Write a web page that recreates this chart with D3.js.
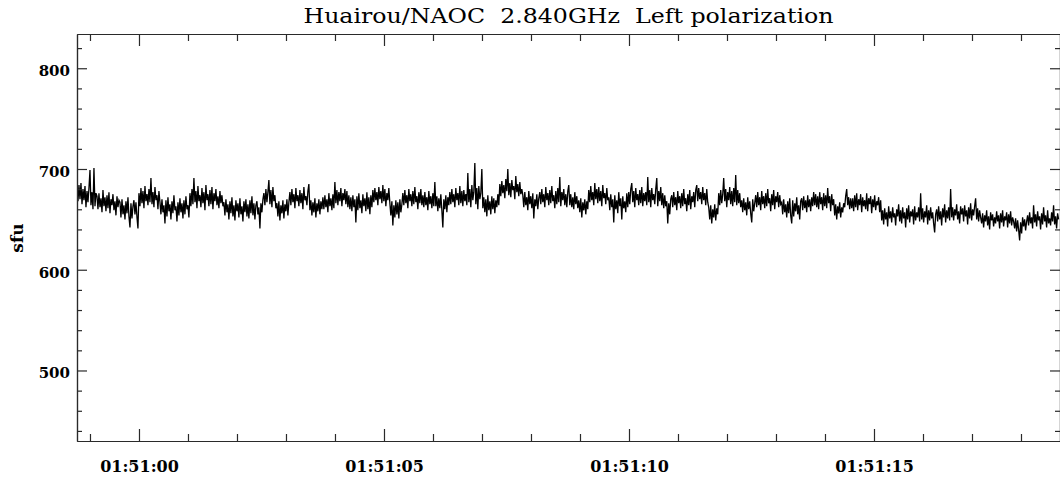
<!DOCTYPE html>
<html>
<head>
<meta charset="utf-8">
<script src="https://cdn.jsdelivr.net/npm/d3@7"></script>
<style>
  body { margin: 0; background: #fff; }
  svg { display: block; }
</style>
</head>
<body>
<div id="chart"></div>
<script>

// title / labels
var sTitle = "Huairou/NAOC  2.840GHz  Left polarization";
var sYLabel = "sfu";

// time window shown on the x axis (UTC)
var xStart = "2000-01-01T01:50:58.735Z";
var xEnd   = "2000-01-01T01:51:18.796Z";

// flux samples (sfu), one sample every sampleStep seconds
var sampleStart = "2000-01-01T01:50:58.735Z";
var sampleStep = 0.0204;
var aFlux = [
    688, 668, 684, 670, 686, 665, 680, 669, 683, 662, 678, 667, 681, 699, 664, 677, 660, 701, 663, 676,
    673, 660, 676, 662, 671, 657, 679, 663, 672, 658, 674, 661, 677, 656, 670, 664, 675, 659, 668, 654, 673, 662, 669,
    667, 652, 670, 655, 664, 650, 668, 656, 672, 653, 642, 666, 651, 663,
    669, 655, 667, 652, 641,
    676, 663, 681, 666, 678, 661, 683, 668, 675, 664, 680, 667, 691, 665, 677, 662, 682, 669, 674, 660, 678,
    667, 655, 670, 657, 664, 646, 669, 653, 672, 658, 665, 650, 668, 656, 674, 659, 663, 648, 667, 654, 671, 657, 666, 651, 669, 655, 673, 660, 664, 652,
    676, 663, 680, 665, 691, 667, 678, 661, 683, 668, 674, 662, 681, 666, 677, 659, 684, 669, 675, 663, 679, 665, 682, 660, 676, 668, 680, 664, 673, 661, 678, 666, 674, 663,
    667, 654, 670, 657, 665, 650, 668, 656, 672, 653, 664, 649, 669, 658, 666, 652, 671, 655, 663, 648, 668, 657, 670, 653, 665, 651, 669, 656, 673, 654, 666, 650, 664,
    668, 655, 662, 641, 666, 657, 670,
    676, 664, 680, 667, 677, 689, 665, 679, 662, 682, 668, 674, 661,
    666, 653, 668, 649, 664, 656, 669, 651, 665, 658, 670, 654, 667,
    677, 664, 680, 667, 675, 661, 681, 668, 674, 663, 679, 666, 676, 660, 682, 669, 673, 664, 678, 685,
    659, 669, 654, 667, 657, 671, 652, 666, 658, 670, 655, 668, 660,
    672, 660, 674, 662, 670, 657, 676, 663, 671, 659, 675, 661, 687,
    666, 679, 664, 677, 668, 681, 663, 676, 669, 680, 665, 678, 662, 674,
    660, 672, 658, 674, 662, 670, 647, 673, 659, 676, 661, 669, 656, 675, 663, 671, 658, 677, 660, 672, 655, 674, 662,
    679, 667, 681, 669, 677, 664, 682, 670, 678, 666, 684, 668, 680, 663, 676, 669, 681,
    666, 654, 668, 644, 664, 652, 669, 655, 667, 651, 670, 657, 665,
    676, 664, 679, 666, 674, 661, 680, 668, 675, 663, 678, 665, 682, 667, 673, 660, 677, 666, 680, 664,
    674, 662, 677, 664, 672, 659, 678, 665, 673, 661, 676, 663, 687,
    663, 673, 658, 671, 661, 675, 659, 642, 670, 660, 674, 657, 672, 664,
    677, 665, 680, 667, 675, 662, 681, 669, 676, 664, 683, 666, 678, 663, 679, 668,
    675, 664, 696, 667, 680, 662, 684, 669, 677, 706, 665, 681, 660, 683, 670, 676, 700,
    661, 672, 657, 670, 653, 674, 659, 668, 655, 673, 660, 671, 656, 669, 662, 675, 664,
    685, 673, 688, 676, 684, 671, 690, 678, 700, 674, 686, 672, 689, 679, 683, 670, 693, 677, 685, 673, 687, 675, 680,
    674, 662, 677, 664, 672, 659, 678, 665, 673, 661, 676, 651, 670, 663, 675, 660, 671,
    677, 665, 680, 667, 675, 662, 682, 669, 676, 664, 679, 666, 683, 668, 674, 661, 678, 665, 681, 667, 692, 663, 677, 669, 680, 664, 675, 662, 678,
    684, 664, 675, 662, 672, 660, 677, 665, 673, 661,
    669, 657, 671, 652, 667, 659, 670, 655, 668, 660,
    679, 667, 683, 669, 677, 664, 686, 670, 680, 666, 682, 668, 678, 663, 684, 671, 676, 665, 681, 669,
    672, 659, 675, 662, 670, 647, 674, 660, 669, 656, 677, 663, 671, 650, 673, 661, 668, 657, 676, 662,
    677, 665, 680, 686, 667, 678, 662, 681, 669, 675, 664, 679, 666, 682, 663, 676, 668,
    677, 664, 692, 667, 679, 662, 681, 669, 675, 665, 680, 691, 663, 678, 668, 682, 664, 676, 661, 674,
    663, 668, 646, 666, 655, 670,
    674, 662, 677, 664, 672, 659, 678, 666, 673, 661, 676, 663, 680, 665, 671, 658, 675, 664, 679, 660, 673, 667, 677, 662,
    679, 684, 668, 681, 670, 677, 665, 682, 669, 676, 664, 680, 667,
    662, 650, 664, 646, 660, 652, 665, 649, 661, 655,
    676, 664, 679, 666, 675, 691, 668, 680, 662, 677, 669, 682, 665, 678, 663, 681, 667, 694, 664, 679, 666, 676, 662,
    669, 657, 671, 659, 667, 654, 672, 660, 668, 656, 647, 670, 658, 666,
    674, 662, 677, 664, 672, 659, 678, 665, 673, 661, 676, 663, 680, 666, 671, 658, 675, 664, 679, 660, 673, 667, 677, 662, 674, 665,
    667, 655, 670, 657, 665, 652, 668, 656, 671, 654, 646, 669, 653, 666, 658, 672, 655, 664, 650, 668,
    671, 659, 673, 661, 669, 657, 674, 662, 670, 658, 672, 663, 677,
    664, 675, 662, 673, 660, 677, 665, 672, 659, 676, 663, 674, 661, 681, 666, 673, 658, 675, 664, 670,
    654, 665, 650, 663, 656, 667, 652, 662, 657, 666,
    662, 673, 680, 664, 672, 660, 671,
    661, 671, 658, 674, 662, 676, 659, 670, 664, 675, 657, 672, 663, 669, 660, 676, 658, 671, 665, 673, 656, 670, 662, 674, 659, 668, 664, 672, 657, 669,
    649, 659, 645, 661, 650, 657, 643, 663, 651, 658, 647, 662, 652, 656, 644, 660, 653, 665, 648, 659, 646, 662, 651, 657, 642, 661, 650, 664, 647, 658, 653, 660, 645, 663, 649, 657, 652, 662, 648, 676,
    650, 661, 647, 658, 652, 664, 645, 659, 649, 662, 651, 657, 646, 637, 655, 660, 648, 663, 650, 658, 644, 661, 652, 665, 647, 659, 651, 662, 649, 680,
    652, 662, 649, 660, 654, 665, 650, 658, 646, 663, 655, 661, 648, 664, 653, 659, 645, 662, 651, 666, 649, 660, 654, 663, 671, 650, 661, 648, 659, 652,
    646, 656, 642, 654, 648, 659, 644, 653, 640, 657, 649, 655, 643, 652, 646, 658, 648, 654, 641, 656, 647, 659, 643, 653, 649, 657, 642, 655, 646, 658, 644, 652, 648,
    641, 651, 638, 649, 640, 629, 647, 636, 652, 643, 650, 639, 648,
    654, 644, 657, 646, 652, 641, 664, 647, 655, 643, 658, 649, 653, 640, 656, 645, 662, 648, 654, 642, 659, 646, 651, 644, 657, 648, 664, 645, 653, 641, 656, 650
];

// axis ranges and ticks
var yRange = [430, 834];
var yMajor = [500, 600, 700, 800];
var yMinor = [440, 460, 480, 520, 540, 560, 580, 620, 640, 660, 680, 720, 740, 760, 780, 820];
var xMajor = ["01:51:00", "01:51:05", "01:51:10", "01:51:15"];
var xMinor = ["01:50:59", "01:51:01", "01:51:02", "01:51:03", "01:51:04",
              "01:51:06", "01:51:07", "01:51:08", "01:51:09",
              "01:51:11", "01:51:12", "01:51:13", "01:51:14",
              "01:51:16", "01:51:17", "01:51:18"];


var w = 1060;
var h = 478;
var mLeft = 77, mRight = 1060, mTop = 34, mBottom = 441;

function toDate(s){
    return new Date("2000-01-01T" + s + "Z");
}

var t0 = new Date(sampleStart).getTime();
var data = aFlux.map(function(v, i){
    return { t: new Date(t0 + i * sampleStep * 1000), v: v };
});

var x = d3.scaleUtc()
    .domain([new Date(xStart), new Date(xEnd)])
    .range([mLeft, mRight]);

var y = d3.scaleLinear()
    .domain(yRange)
    .range([mBottom, mTop]);

var svg = d3.select("#chart")
    .append("svg")
    .attr("width", w)
    .attr("height", h)
    .style("background", "#fff");

svg.append("defs")
    .append("clipPath")
    .attr("id", "plotClip")
    .append("rect")
    .attr("x", mLeft)
    .attr("y", mTop)
    .attr("width", mRight - mLeft)
    .attr("height", mBottom - mTop);

// the signal
var line = d3.line()
    .x(function(d){ return x(d.t); })
    .y(function(d){ return y(d.v); });

svg.append("path")
    .datum(data)
    .attr("clip-path", "url(#plotClip)")
    .attr("d", line)
    .attr("fill", "none")
    .attr("stroke", "#000")
    .attr("stroke-width", 1.3);

var fmt = d3.utcFormat("%H:%M:%S");
var xMajorD = xMajor.map(toDate);
var xMinorD = xMinor.map(toDate);

function styleAxis(g){
    g.selectAll("path, line")
        .attr("stroke", "#2a2a2a")
        .attr("stroke-width", 1.2);
    g.selectAll("text")
        .attr("fill", "#000")
        .attr("font-family", "'DejaVu Serif', 'Liberation Serif', serif")
        .attr("font-weight", "bold");
}

// bottom
svg.append("g")
    .attr("transform", "translate(0," + mBottom + ")")
    .call(d3.axisBottom(x).tickValues(xMinorD).tickSize(-7).tickSizeOuter(0).tickFormat(""))
    .call(styleAxis);
var gB = svg.append("g")
    .attr("transform", "translate(0," + mBottom + ")")
    .call(d3.axisBottom(x).tickValues(xMajorD).tickSize(-12).tickSizeOuter(0)
        .tickPadding(20).tickFormat(fmt))
    .call(styleAxis);
gB.selectAll("text").attr("font-size", "16px");

// top
svg.append("g")
    .attr("transform", "translate(0," + mTop + ")")
    .call(d3.axisTop(x).tickValues(xMinorD).tickSize(-7).tickSizeOuter(0).tickFormat(""))
    .call(styleAxis);
svg.append("g")
    .attr("transform", "translate(0," + mTop + ")")
    .call(d3.axisTop(x).tickValues(xMajorD).tickSize(-12).tickSizeOuter(0).tickFormat(""))
    .call(styleAxis);

// left
svg.append("g")
    .attr("transform", "translate(" + mLeft + ",0)")
    .call(d3.axisLeft(y).tickValues(yMinor).tickSize(-5).tickSizeOuter(0).tickFormat(""))
    .call(styleAxis);
var gL = svg.append("g")
    .attr("transform", "translate(" + mLeft + ",0)")
    .call(d3.axisLeft(y).tickValues(yMajor).tickSize(-10).tickSizeOuter(0)
        .tickPadding(7).tickFormat(d3.format("d")))
    .call(styleAxis);
gL.selectAll("text").attr("font-size", "15px").attr("dy", "0.5em");

// right
svg.append("g")
    .attr("transform", "translate(" + mRight + ",0)")
    .call(d3.axisRight(y).tickValues(yMinor).tickSize(-5).tickSizeOuter(0).tickFormat(""))
    .call(styleAxis);
svg.append("g")
    .attr("transform", "translate(" + mRight + ",0)")
    .call(d3.axisRight(y).tickValues(yMajor).tickSize(-10).tickSizeOuter(0).tickFormat(""))
    .call(styleAxis);

// y label
svg.append("text")
    .text(sYLabel)
    .attr("transform", "translate(23,238) rotate(-90)")
    .attr("text-anchor", "middle")
    .attr("font-family", "'DejaVu Serif', 'Liberation Serif', serif")
    .attr("font-weight", "bold")
    .attr("font-size", "17px")
    .attr("fill", "#000");

// title
svg.append("text")
    .text(sTitle)
    .attr("x", (mLeft + mRight) / 2)
    .attr("y", 23)
    .attr("text-anchor", "middle")
    .style("white-space", "pre")
    .attr("font-family", "'DejaVu Serif', 'Liberation Serif', serif")
    .attr("font-size", "21px")
    .attr("textLength", 530)
    .attr("lengthAdjust", "spacingAndGlyphs")
    .attr("fill", "#000");

</script>
</body>
</html>
